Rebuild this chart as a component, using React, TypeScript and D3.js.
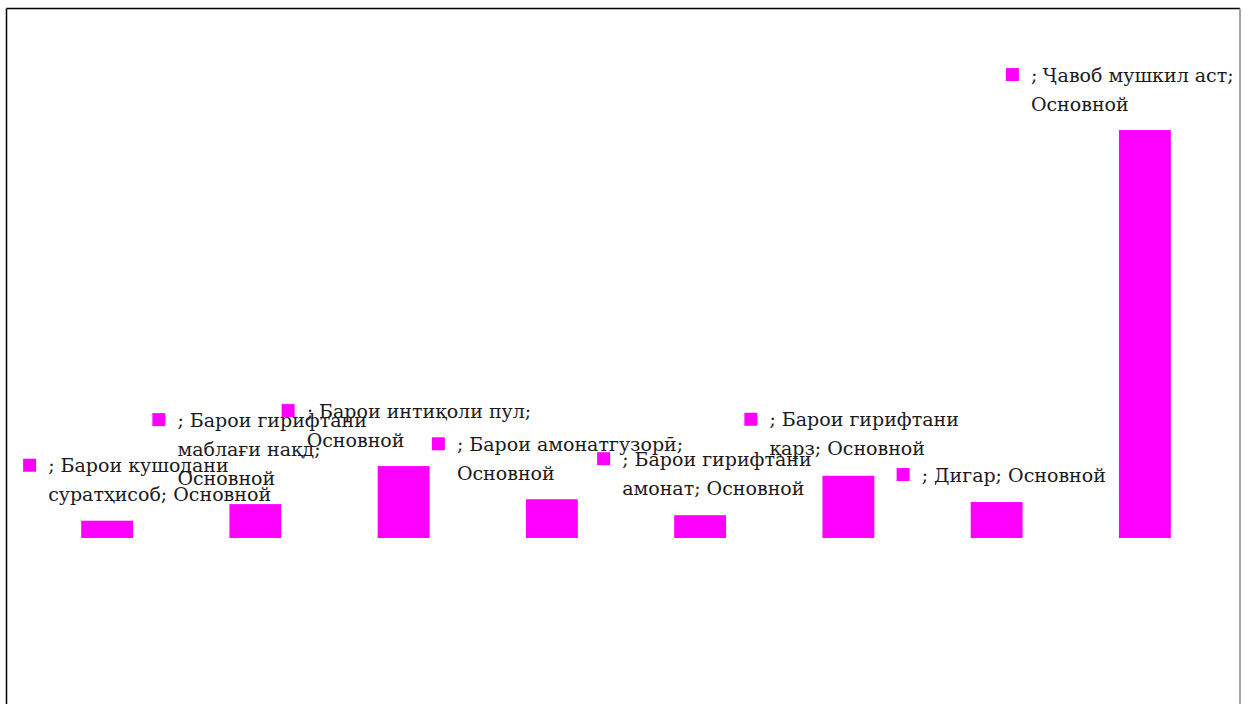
import React from "react";
import * as d3 from "d3";

const categories = [
  "Барои кушодани суратҳисоб",
  "Барои гирифтани маблағи нақд",
  "Барои интиқоли пул",
  "Барои амонатгузорӣ",
  "Барои гирифтани амонат",
  "Барои гирифтани қарз",
  "Дигар",
  "Ҷавоб мушкил аст",
];
const values = [2.5, 4.9, 10.4, 5.6, 3.3, 9.0, 5.2, 59.0];
const seriesName = "Основной";
// label text lines as wrapped in the reference
const labelLines = [
  ["; Барои кушодани", "суратҳисоб; Основной"],
  ["; Барои гирифтани", "маблағи нақд;", "Основной"],
  ["; Барои интиқоли пул;", "Основной"],
  ["; Барои амонатгузорӣ;", "Основной"],
  ["; Барои гирифтани", "амонат; Основной"],
  ["; Барои гирифтани", "қарз; Основной"],
  ["; Дигар; Основной"],
  ["; Ҷавоб мушкил аст;", "Основной"],
];
// label offsets relative to bar centre / bar top
const labelOffsets = [
  [-84, -62],
  [-103, -91],
  [-122, -62],
  [-120, -62],
  [-103, -63],
  [-104, -63],
  [-100, -34],
  [-139, -62],
];

const W = 1248;
const H = 704;
const color = "#ff00ff";

export default function App() {
  const x = d3.scaleBand<string>().domain(categories).range([33, 1219]).paddingInner(0.65).paddingOuter(0.325);
  const y = d3.scaleLinear().domain([0, 70]).range([538, 54]);
  const font = "'DejaVu Serif', 'Liberation Serif', serif";
  return (
    <svg width={W} height={H} style={{ position: "absolute", left: 0, top: 0, background: "#fff" }}>
      <rect x={0} y={0} width={W} height={H} fill="#fff" />
      <line x1={6.5} y1={8.5} x2={1240} y2={8.5} stroke="#000" strokeWidth={1.5} />
      <line x1={6.5} y1={8.5} x2={6.5} y2={H} stroke="#000" strokeWidth={1.5} />
      <line x1={1240} y1={8.5} x2={1240} y2={H} stroke="#888" strokeWidth={1.5} />
      {categories.map((c, i) => (
        <rect key={c} x={x(c)} y={y(values[i])} width={x.bandwidth()} height={y(0) - y(values[i])} fill={color} />
      ))}
      {categories.map((c, i) => {
        const cx = (x(c) as number) + x.bandwidth() / 2;
        const top = y(values[i]);
        const mx = cx + labelOffsets[i][0];
        const my = top + labelOffsets[i][1];
        return (
          <g key={"l" + c}>
            <rect x={mx} y={my} width={13} height={13} fill={color} />
            {labelLines[i].map((t, j) => (
              <text key={j} x={mx + 25} y={my + 7 + j * 29} dy="0.35em" fontFamily={font} fontSize={19} fill="#1a1a1a">
                {t}
              </text>
            ))}
          </g>
        );
      })}
    </svg>
  );
}
